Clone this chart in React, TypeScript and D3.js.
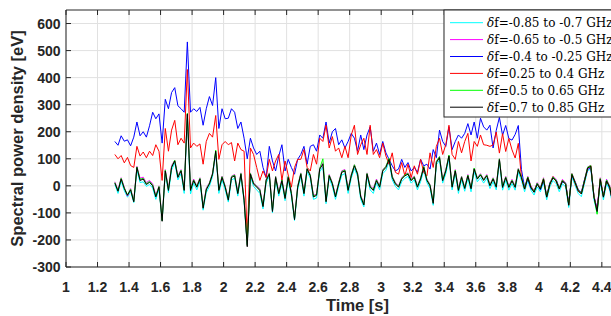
import React from 'react';
import * as d3 from 'd3';

const TIME_START = 1.31;
const TIME_STEP = 0.02;

const X_TICKS = [1, 1.2, 1.4, 1.6, 1.8, 2, 2.2, 2.4, 2.6, 2.8, 3, 3.2, 3.4, 3.6, 3.8, 4, 4.2, 4.4, 4.6];
const Y_TICKS = [-300, -200, -100, 0, 100, 200, 300, 400, 500, 600];

const CYAN = [
  5, -28, 18, -18, -42, -22, -62, 58, 12, 15,
  -2, 5, -8, -50, -12, -128, 45, -25, 58, 85,
  22, 45, -28, 250, -30, 10, -15, 15, -90, -25,
  -2, 35, 118, -28, 22, -15, -60, 22, 28, -38,
  35, -60, -215, 35, -2, -15, -28, -85, 10, 35,
  -100, 22, -38, 10, -55, 22, -38, -128, -15, 35,
  -38, 52, 28, -50, -45, 52, 70, -66, 28, -2,
  -50, -2, 40, 45, -28, 28, 64, 35, -50, -78,
  35, -15, -28, 10, -15, 45, 58, 90, 22, -2,
  -15, 15, 28, 35, 10, 22, -15, 15, 58, 12,
  -10, -72, 78, 95, 10, 45, 100, -15, 45, -28,
  22, -20, 28, -22, 52, 15, 30, 10, 28, -10,
  15, -15, 88, -16, 20, -16, 8, -16, 50, 20,
  -22, 20, -16, -34, -4, -22, 14, -52, -4, 20,
  8, -22, 8, -4, -80, 32, 2, -28, -40, 8,
  56, 62, -52, -100, 14, -52, 8, -16, -74,
];

const MAGENTA = [
  15, -15, 30, -5, -38, -10, -55, 72, 28, 32,
  12, 20, 8, -35, 0, -125, 60, -10, 75, 95,
  38, 60, -10, 262, -8, 25, 0, 30, -78, -8,
  12, 48, 122, -10, 36, 0, -48, 36, 42, -22,
  48, -48, -220, 48, 12, 0, -10, -72, 25, 48,
  -90, 36, -22, 25, -40, 36, -22, -120, 0, 48,
  -22, 66, 42, -35, -30, 66, 85, -52, 42, 12,
  -35, 12, 56, 60, -10, 42, 78, 48, -35, -66,
  48, 0, -10, 25, 0, 60, 72, 100, 36, 12,
  0, 30, 42, 48, 25, 36, 0, 30, 72, 25,
  5, -60, 90, 108, 25, 60, 112, 0, 60, -10,
  36, -5, 42, -5, 66, 30, 45, 25, 42, 5,
  30, 0, 100, 0, 35, 0, 24, 0, 64, 35,
  -6, 35, 0, -18, 12, -6, 30, -36, 12, 35,
  24, -6, 24, 12, -66, 46, 18, -12, -24, 24,
  70, 76, -36, -90, 30, -36, 24, 0, -60,
];

const BLUE = [
  164, 150, 185, 165, 170, 148, 180, 236, 185, 200,
  180, 222, 272, 248, 266, 158, 320, 285, 345, 363,
  296, 285, 272, 532, 272, 285, 275, 290, 224, 285,
  330, 297, 400, 212, 285, 248, 250, 285, 272, 212,
  236, 176, 100, 176, 140, 116, 128, 68, 31, 146,
  92, 55, 110, 152, 55, 98, 68, 43, 98, 116,
  146, 80, 146, 152, 128, 188, 176, 236, 158, 200,
  212, 152, 170, 140, 164, 194, 176, 128, 188, 134,
  188, 218, 128, 158, 116, 164, 122, 98, 74, 55,
  62, 98, 68, 86, 55, 68, 50, 98, 74, 80,
  62, 134, 104, 206, 164, 146, 218, 134, 164, 188,
  176, 194, 230, 188, 236, 176, 250, 218, 206, 224,
  140, 205, 253, 187, 223, 175, 169, 190, 223, 60,
  -6, 25, -10, -20, 10, -15, 20, -38, 10, 28,
  22, -8, 15, 10, -65, 38, 15, -15, -25, 22,
  60, 68, -38, -85, 20, -38, 22, -10, -60,
];

const RED = [
  116, 100, 112, 85, 105, 75, 68, 146, 110, 125,
  104, 128, 112, 152, 128, 20, 212, 128, 206, 242,
  152, 176, 158, 430, 140, 158, 146, 155, 80, 164,
  194, 180, 260, 98, 152, 164, 152, 160, 92, 158,
  134, 128, -200, 140, 116, 68, 20, 55, 31, 98,
  55, 92, 116, 20, 92, 40, -5, 68, 98, 98,
  134, 68, 55, 116, 80, 176, 164, 224, 140, 182,
  128, 140, 104, 146, 104, 188, 224, 116, 152, 176,
  116, 224, 116, 134, 104, 158, 110, 80, 122, 50,
  43, 86, 37, 80, 31, 74, 43, 98, 50, 37,
  122, 68, 146, 176, 116, 152, 224, 116, 98, 164,
  122, 164, 194, 92, 164, 146, 188, 152, 150, 146,
  151, 199, 121, 193, 127, 175, 133, 103, 157, 30,
  -12, 32, -4, -20, 8, -10, 26, -40, 4, 34,
  16, -10, 20, 8, -70, 44, 10, -20, -28, 16,
  64, 74, -40, -90, 26, -40, 20, -4, -64,
];

const GREEN = [
  12, -18, 28, -8, -33, -12, -57, 70, 24, 28,
  8, 16, 3, -38, -2, -128, 58, -14, 70, 95,
  34, 58, -14, 268, -14, 22, -2, 28, -80, -12,
  10, 46, 132, -14, 34, -2, -50, 34, 40, -26,
  46, -50, -220, 46, 10, -2, -14, -74, 22, 46,
  -92, 34, -26, 22, -44, 34, -26, -122, -2, 46,
  -26, 64, 40, -38, -32, 64, 100, -56, 40, 10,
  -38, 10, 53, 58, -14, 40, 78, 46, -38, -68,
  46, -2, -14, 22, -2, 58, 72, 102, 34, 10,
  -2, 28, 40, 46, 22, 34, -2, 28, 72, 23,
  3, -62, 90, 108, 22, 58, 114, -2, 58, -14,
  34, -7, 40, -8, 66, 28, 43, 23, 40, 3,
  28, -2, 100, -3, 33, -3, 21, -3, 63, 33,
  -9, 33, -3, -21, 9, -9, 27, -39, 9, 33,
  21, -9, 21, 9, -69, 45, 15, -15, -27, 21,
  69, 75, -39, -105, 27, -39, 21, -3, -63,
];

const BLACK = [
  10, -20, 25, -10, -35, -15, -59, 68, 20, 25,
  5, 13, 0, -41, -5, -131, 55, -17, 68, 92,
  31, 55, -17, 266, -17, 19, -5, 25, -83, -15,
  7, 43, 128, -17, 31, -5, -53, 31, 37, -29,
  43, -53, -225, 43, 7, -5, -17, -77, 19, 43,
  -95, 31, -29, 19, -47, 31, -29, -125, -5, 43,
  -29, 62, 37, -41, -35, 62, 80, -59, 37, 7,
  -41, 7, 50, 55, -17, 37, 74, 43, -41, -71,
  43, -5, -17, 19, -5, 55, 68, 98, 31, 7,
  -5, 25, 37, 43, 19, 31, -5, 25, 68, 20,
  0, -65, 86, 104, 19, 55, 110, -5, 55, -17,
  31, -10, 37, -11, 62, 25, 40, 20, 37, 0,
  25, -5, 97, -6, 30, -6, 18, -6, 60, 30,
  -12, 30, -6, -24, 6, -12, 24, -42, 6, 30,
  18, -12, 18, 6, -72, 42, 12, -18, -30, 18,
  66, 72, -42, -95, 24, -42, 18, -6, -66,
];

const LABELS = [
  '-0.85 to -0.7 GHz',
  '-0.65 to -0.5 GHz',
  '-0.4 to -0.25 GHz',
  '0.25 to 0.4 GHz',
  '0.5 to 0.65 GHz',
  '0.7 to 0.85 GHz',
];
const COLORS = ['#00ffff', '#ff00ff', '#0000ff', '#ff0000', '#00ff00', '#000000'];
const VALUES = [CYAN, MAGENTA, BLUE, RED, GREEN, BLACK];

const W = 611;
const H = 316;
const LEFT = 66;
const TOP = 10;
const BOTTOM = 267;
const PX_PER_S = 157.6;
const X_MAX = 4.6;

export default function App() {
  const x = d3.scaleLinear().domain([1, X_MAX]).range([LEFT, LEFT + (X_MAX - 1) * PX_PER_S]);
  const y = d3.scaleLinear().domain([-300, 650]).range([BOTTOM, TOP]);
  const right = x(X_MAX);
  const line = d3
    .line<number>()
    .x((_, i) => x(TIME_START + TIME_STEP * i))
    .y((v) => y(v));

  const axisColor = '#262626';
  const gridColor = '#e1e1e1';
  const sans = '"Liberation Sans", Arial, Helvetica, sans-serif';
  const serif = '"DejaVu Serif", "Liberation Serif", serif';
  const tickLen = 5;

  const legX = 444;
  const legTop = TOP;
  const legBottom = 117;
  const rowY0 = 22.7;
  const rowStep = 16.9;

  return (
    <svg
      width={W}
      height={H}
      viewBox={`0 0 ${W} ${H}`}
      style={{ position: 'absolute', left: 0, top: 0, background: '#fff' }}
    >
      <defs>
        <clipPath id="plotclip">
          <rect x={LEFT} y={TOP} width={right - LEFT} height={BOTTOM - TOP} />
        </clipPath>
      </defs>
      <rect x={0} y={0} width={W} height={H} fill="#fff" />
      <g stroke={gridColor} strokeWidth={1}>
        {X_TICKS.map((t) => (
          <line key={`gx${t}`} x1={x(t)} x2={x(t)} y1={TOP} y2={BOTTOM} />
        ))}
        {Y_TICKS.map((v) => (
          <line key={`gy${v}`} x1={LEFT} x2={right} y1={y(v)} y2={y(v)} />
        ))}
      </g>
      <g clipPath="url(#plotclip)" fill="none" strokeWidth={1} strokeLinejoin="round">
        {VALUES.map((vals, k) => (
          <path key={k} d={line(vals) || ''} stroke={COLORS[k]} />
        ))}
      </g>
      <g stroke={axisColor} strokeWidth={1} fill="none">
        <line x1={LEFT} x2={LEFT} y1={TOP} y2={BOTTOM} />
        <line x1={LEFT} x2={right} y1={BOTTOM} y2={BOTTOM} />
        <line x1={LEFT} x2={right} y1={TOP} y2={TOP} />
        {X_TICKS.map((t) => (
          <g key={`tx${t}`}>
            <line x1={x(t)} x2={x(t)} y1={BOTTOM} y2={BOTTOM - tickLen} />
            <line x1={x(t)} x2={x(t)} y1={TOP} y2={TOP + tickLen} />
          </g>
        ))}
        {Y_TICKS.map((v) => (
          <line key={`ty${v}`} x1={LEFT} x2={LEFT + tickLen} y1={y(v)} y2={y(v)} />
        ))}
      </g>
      <g fontFamily={sans} fontWeight="bold" fontSize={14} fill="#262626">
        {X_TICKS.map((t) => (
          <text key={`lx${t}`} x={x(t)} y={291.5} textAnchor="middle">
            {String(t)}
          </text>
        ))}
        {Y_TICKS.map((v) => (
          <text key={`ly${v}`} x={60.5} y={y(v) + 5} textAnchor="end">
            {String(v)}
          </text>
        ))}
      </g>
      <g fontFamily={sans} fontWeight="bold" fontSize={16.5} fill="#262626">
        <text x={x(2.85)} y={311} textAnchor="middle">
          Time [s]
        </text>
        <text transform={`translate(23,138.5) rotate(-90)`} textAnchor="middle">
          Spectral power density [eV]
        </text>
      </g>
      <g>
        <rect
          x={legX}
          y={legTop}
          width={W + 20 - legX}
          height={legBottom - legTop}
          fill="#fff"
          stroke={axisColor}
          strokeWidth={1}
        />
        {LABELS.map((lab, k) => {
          const ry = rowY0 + rowStep * k;
          return (
            <g key={`leg${k}`}>
              <line x1={450} x2={483} y1={ry} y2={ry} stroke={COLORS[k]} strokeWidth={1} />
              <text x={487} y={ry + 4.3} fontFamily={serif} fontSize={12} fill="#000">
                <tspan fontStyle="italic">δ</tspan>
                <tspan>{`f=${lab}`}</tspan>
              </text>
            </g>
          );
        })}
      </g>
    </svg>
  );
}
